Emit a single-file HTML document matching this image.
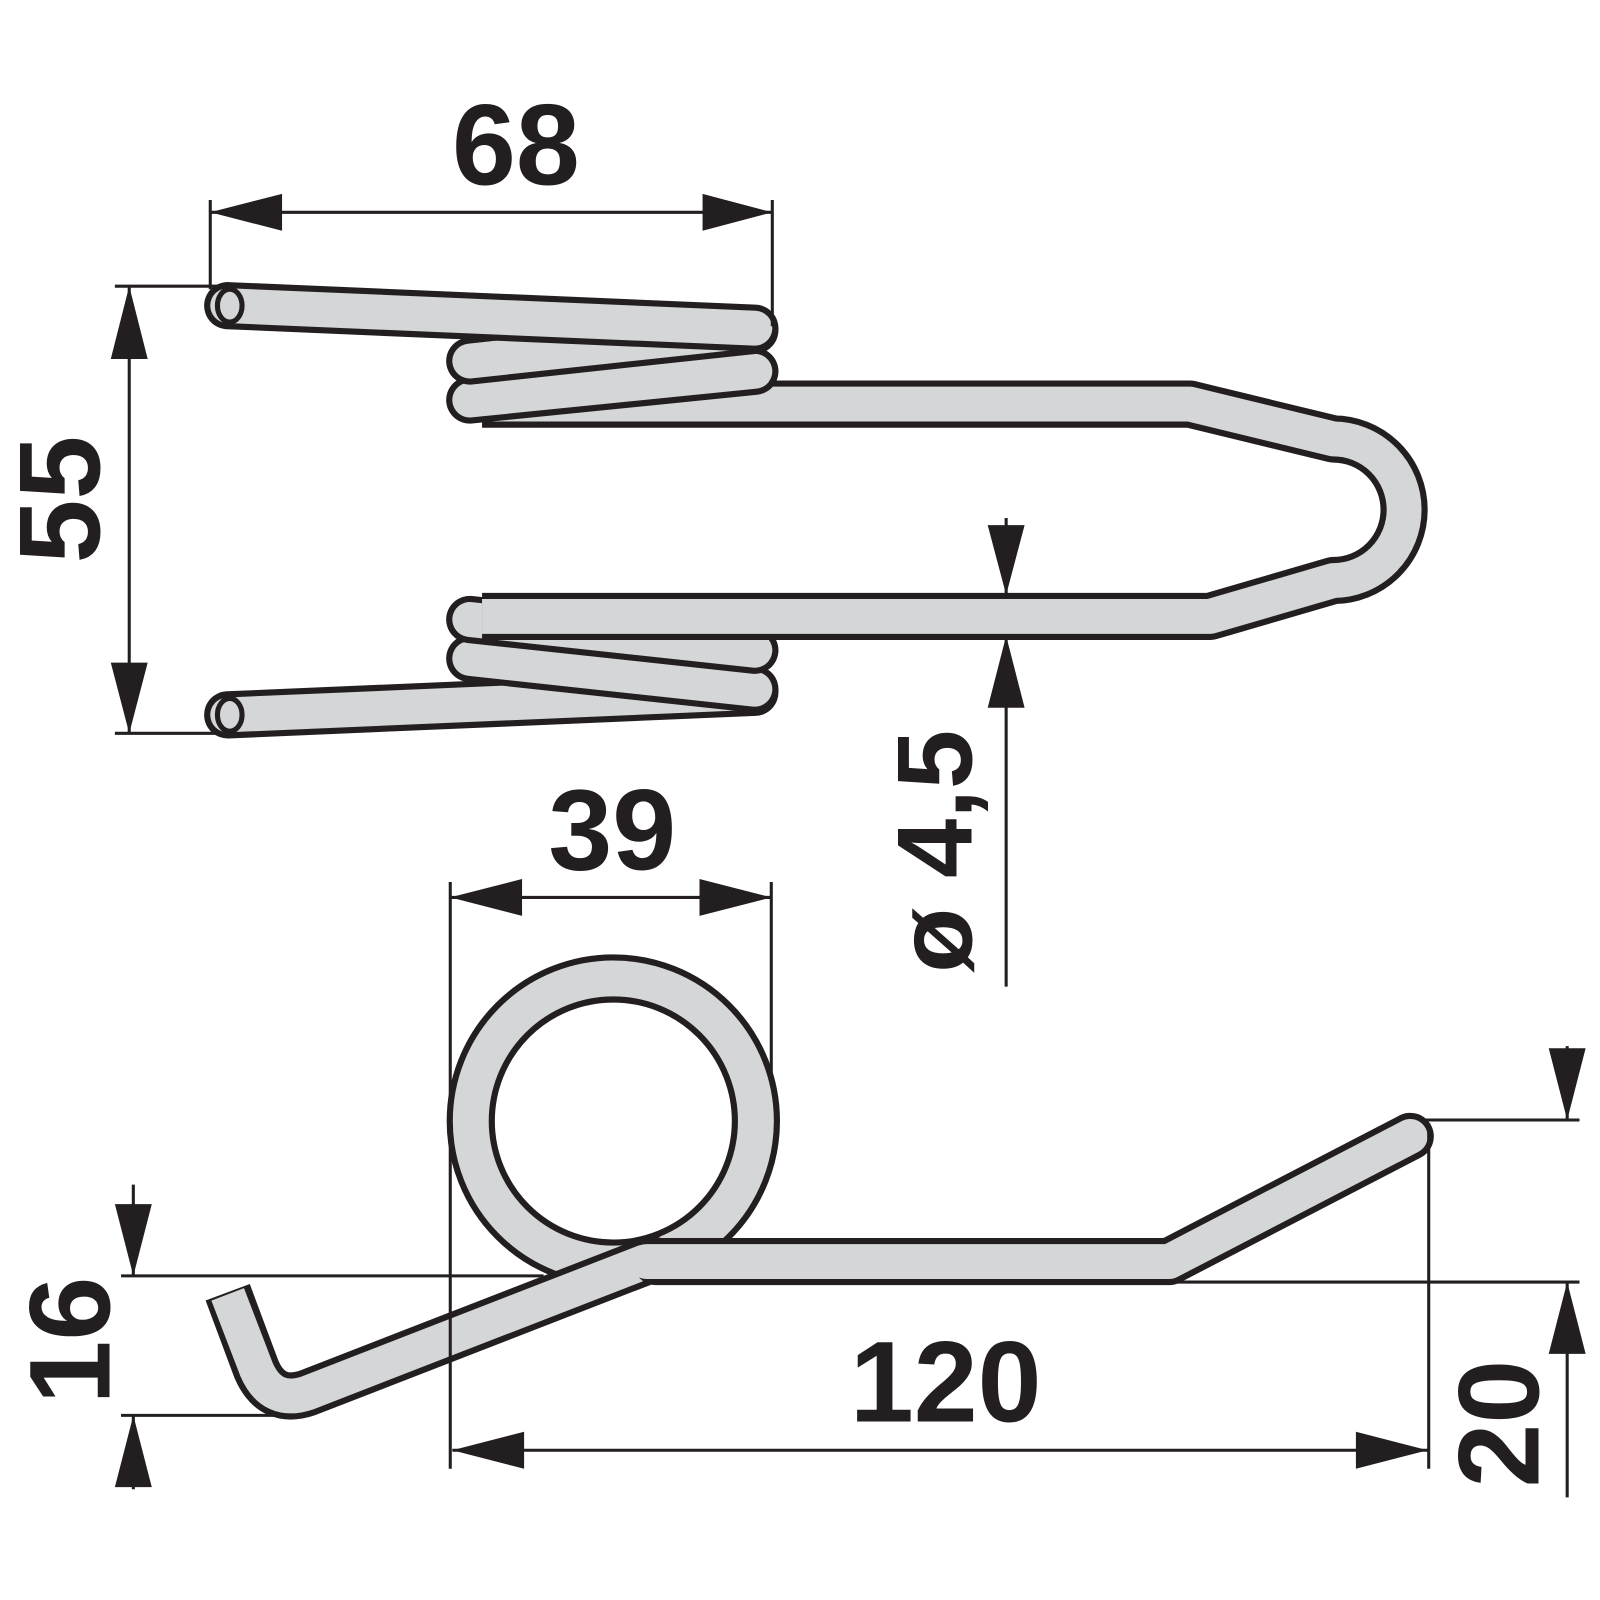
<!DOCTYPE html>
<html><head><meta charset="utf-8"><style>
html,body{margin:0;padding:0;background:#fff;}
svg{display:block;}
text{font-family:"Liberation Sans",Arial,sans-serif;font-weight:bold;fill:#231f20;}
</style></head><body>
<svg width="1600" height="1600" viewBox="0 0 1560 1560" xmlns="http://www.w3.org/2000/svg">
<g fill="none" stroke-linecap="round" stroke-linejoin="round">
<path d="M222,697 L736,675" stroke="#231f20" stroke-width="46"/>
<path d="M222,697 L736,675" stroke="#d4d6d8" stroke-width="34"/>
<path d="M458,642 L736,672" stroke="#231f20" stroke-width="46"/>
<path d="M458,642 L736,672" stroke="#d4d6d8" stroke-width="34"/>
<path d="M458,604 L736,634" stroke="#231f20" stroke-width="46"/>
<path d="M458,604 L736,634" stroke="#d4d6d8" stroke-width="34"/>
<path d="M470,394 L1160,394 L1300,428 A69,69 0 0 1 1300,566 L1180,601 L470,601" stroke="#231f20" stroke-width="46" stroke-linecap="butt"/>
<path d="M458,394 L1160,394 L1300,428 A69,69 0 0 1 1300,566 L1180,601 L470,601" stroke="#d4d6d8" stroke-width="34" stroke-linecap="butt"/>
<path d="M458,390 L736,362" stroke="#231f20" stroke-width="46"/>
<path d="M458,390 L736,362" stroke="#d4d6d8" stroke-width="34"/>
<path d="M458,352 L736,322" stroke="#231f20" stroke-width="46"/>
<path d="M458,352 L736,322" stroke="#d4d6d8" stroke-width="34"/>
<path d="M222,298 L736,320" stroke="#231f20" stroke-width="46"/>
<path d="M222,298 L736,320" stroke="#d4d6d8" stroke-width="34"/>
<ellipse cx="224" cy="298" rx="12" ry="16" stroke="#231f20" stroke-width="5" fill="#d4d6d8"/>
<ellipse cx="224" cy="697" rx="12" ry="16" stroke="#231f20" stroke-width="5" fill="#d4d6d8"/>

<circle cx="598" cy="1093" r="139" stroke="#231f20" stroke-width="47"/>
<circle cx="598" cy="1093" r="139" stroke="#d4d6d8" stroke-width="35"/>
<path d="M650,1222 L300,1358 Q265,1370 250,1335 L222,1260" stroke="#231f20" stroke-width="46" stroke-linecap="butt"/>
<path d="M650,1222 L300,1358 Q265,1370 250,1335 L222,1262" stroke="#d4d6d8" stroke-width="34" stroke-linecap="butt"/>
<path d="M640,1230 L1140,1230 L1375,1108" stroke="#231f20" stroke-width="46"/>
<path d="M630,1230 L1140,1230 L1375,1108" stroke="#d4d6d8" stroke-width="34"/>
</g>

<g stroke="#231f20" stroke-width="3" fill="none">
<line x1="205" y1="195" x2="205" y2="282"/><line x1="753" y1="195" x2="753" y2="318"/>
<line x1="205" y1="207" x2="753" y2="207"/>
<line x1="112" y1="279" x2="228" y2="279"/><line x1="112" y1="715" x2="222" y2="715"/>
<line x1="126" y1="279" x2="126" y2="715"/>
<line x1="981" y1="505" x2="981" y2="580"/><line x1="981" y1="620" x2="981" y2="962"/>
<line x1="439" y1="860" x2="439" y2="1432"/><line x1="752" y1="860" x2="752" y2="1050"/>
<line x1="439" y1="875" x2="752" y2="875"/>
<line x1="441" y1="1414" x2="1392" y2="1414"/><line x1="1393" y1="1095" x2="1393" y2="1432"/>
<line x1="118" y1="1244" x2="530" y2="1244"/><line x1="118" y1="1380" x2="285" y2="1380"/>
<line x1="130" y1="1155" x2="130" y2="1244"/><line x1="130" y1="1380" x2="130" y2="1452"/>
<line x1="1385" y1="1092" x2="1540" y2="1092"/><line x1="640" y1="1250" x2="1540" y2="1250"/>
<line x1="1528" y1="1020" x2="1528" y2="1092"/><line x1="1528" y1="1250" x2="1528" y2="1460"/>
</g>
<g fill="#231f20">
<polygon points="205,207 275,189 275,225"/><polygon points="753,207 685,189 685,225"/>
<polygon points="126,279 108,350 144,350"/><polygon points="126,715 108,646 144,646"/>
<polygon points="981,580 963,512 999,512"/><polygon points="981,620 963,690 999,690"/>
<polygon points="439,875 509,857 509,893"/><polygon points="752,875 682,857 682,893"/>
<polygon points="441,1414 511,1396 511,1432"/><polygon points="1392,1414 1322,1396 1322,1432"/>
<polygon points="130,1244 112,1174 148,1174"/><polygon points="130,1380 112,1450 148,1450"/>
<polygon points="1528,1092 1510,1022 1546,1022"/><polygon points="1528,1250 1510,1320 1546,1320"/>
</g>
<text x="503" y="180" font-size="112" text-anchor="middle">68</text>
<text x="597" y="848" font-size="112" text-anchor="middle">39</text>
<text x="922" y="1386" font-size="112" text-anchor="middle">120</text>
<text transform="translate(97,487) rotate(-90)" font-size="112" text-anchor="middle">55</text>
<text transform="translate(947,830) rotate(-90)" font-size="104" text-anchor="middle">ø 4,5</text>
<text transform="translate(107,1307) rotate(-90)" font-size="112" text-anchor="middle">16</text>
<text transform="translate(1500,1388) rotate(-90)" font-size="112" text-anchor="middle">20</text>
</svg>
</body></html>
